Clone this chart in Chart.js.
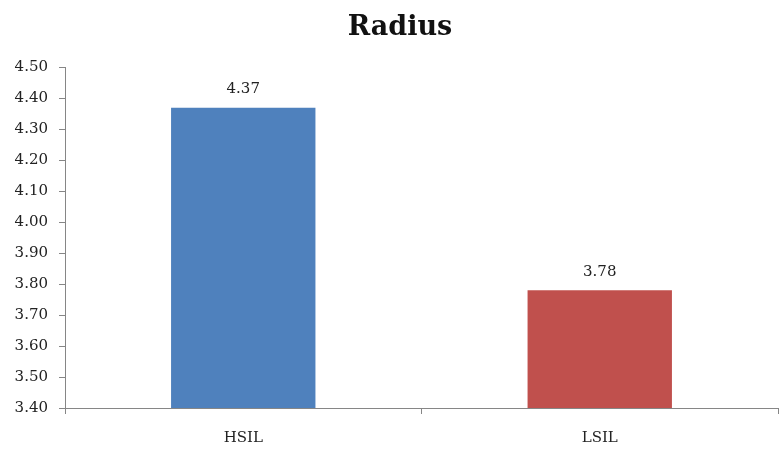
<!DOCTYPE html>
<html><head><meta charset="utf-8">
<script src="https://cdn.jsdelivr.net/npm/chart.js@4"></script>
<style>html,body{margin:0;padding:0;background:#fff}#w{width:779px;height:453px}</style>
</head><body><div id="w"><canvas id="c"></canvas></div>
<script>
const categories = ["HSIL", "LSIL"];
const radiusValues = [4.37, 3.78];
const barColors = ["#4F81BD", "#C0504D"];
const chartTitle = "Radius";

const serif = '"DejaVu Serif", "Liberation Serif", serif';

const valueLabels = {
  id: 'valueLabels',
  afterDatasetsDraw(chart) {
    const ctx = chart.ctx;
    const meta = chart.getDatasetMeta(0);
    ctx.save();
    ctx.font = '15px ' + serif;
    ctx.fillStyle = '#222';
    ctx.textAlign = 'center';
    ctx.textBaseline = 'bottom';
    meta.data.forEach((bar, i) => {
      ctx.fillText(radiusValues[i].toFixed(2), bar.x, bar.y - 11);
    });
    // title, centred as in the reference
    ctx.font = 'bold 27px ' + serif;
    ctx.fillStyle = '#111';
    ctx.textBaseline = 'alphabetic';
    ctx.fillText(chartTitle, 400, 35);
    ctx.restore();
  }
};

new Chart(document.getElementById('c'), {
  type: 'bar',
  data: {
    labels: categories,
    datasets: [{ data: radiusValues, backgroundColor: barColors, barPercentage: 0.405, categoryPercentage: 1.0 }]
  },
  options: {
    responsive: true,
    maintainAspectRatio: false,
    animation: false,
    layout: { padding: { left: 0, right: 1, top: 0, bottom: 0 } },
    plugins: {
      legend: { display: false },
      tooltip: { enabled: false },
      title: {
        display: true, text: chartTitle, color: 'rgba(0,0,0,0)',
        font: { family: serif, size: 27, weight: 'bold' },
        padding: { top: 8, bottom: 27 }
      }
    },
    scales: {
      x: {
        afterFit(s) { s.height = 45; },
        grid: { display: true, drawOnChartArea: false, offset: true, tickLength: 6, color: '#868686' },
        border: { color: '#868686' },
        ticks: { color: '#222', font: { family: serif, size: 15 }, padding: 15 }
      },
      y: {
        min: 3.4, max: 4.5,
        afterFit(s) { s.width = 65; },
        grid: { display: true, drawOnChartArea: false, tickLength: 6, color: '#868686' },
        border: { color: '#868686' },
        ticks: { stepSize: 0.1, color: '#222', font: { family: serif, size: 15 }, padding: 11,
          callback: v => Number(v).toFixed(2) }
      }
    }
  },
  plugins: [valueLabels]
});
</script></body></html>
